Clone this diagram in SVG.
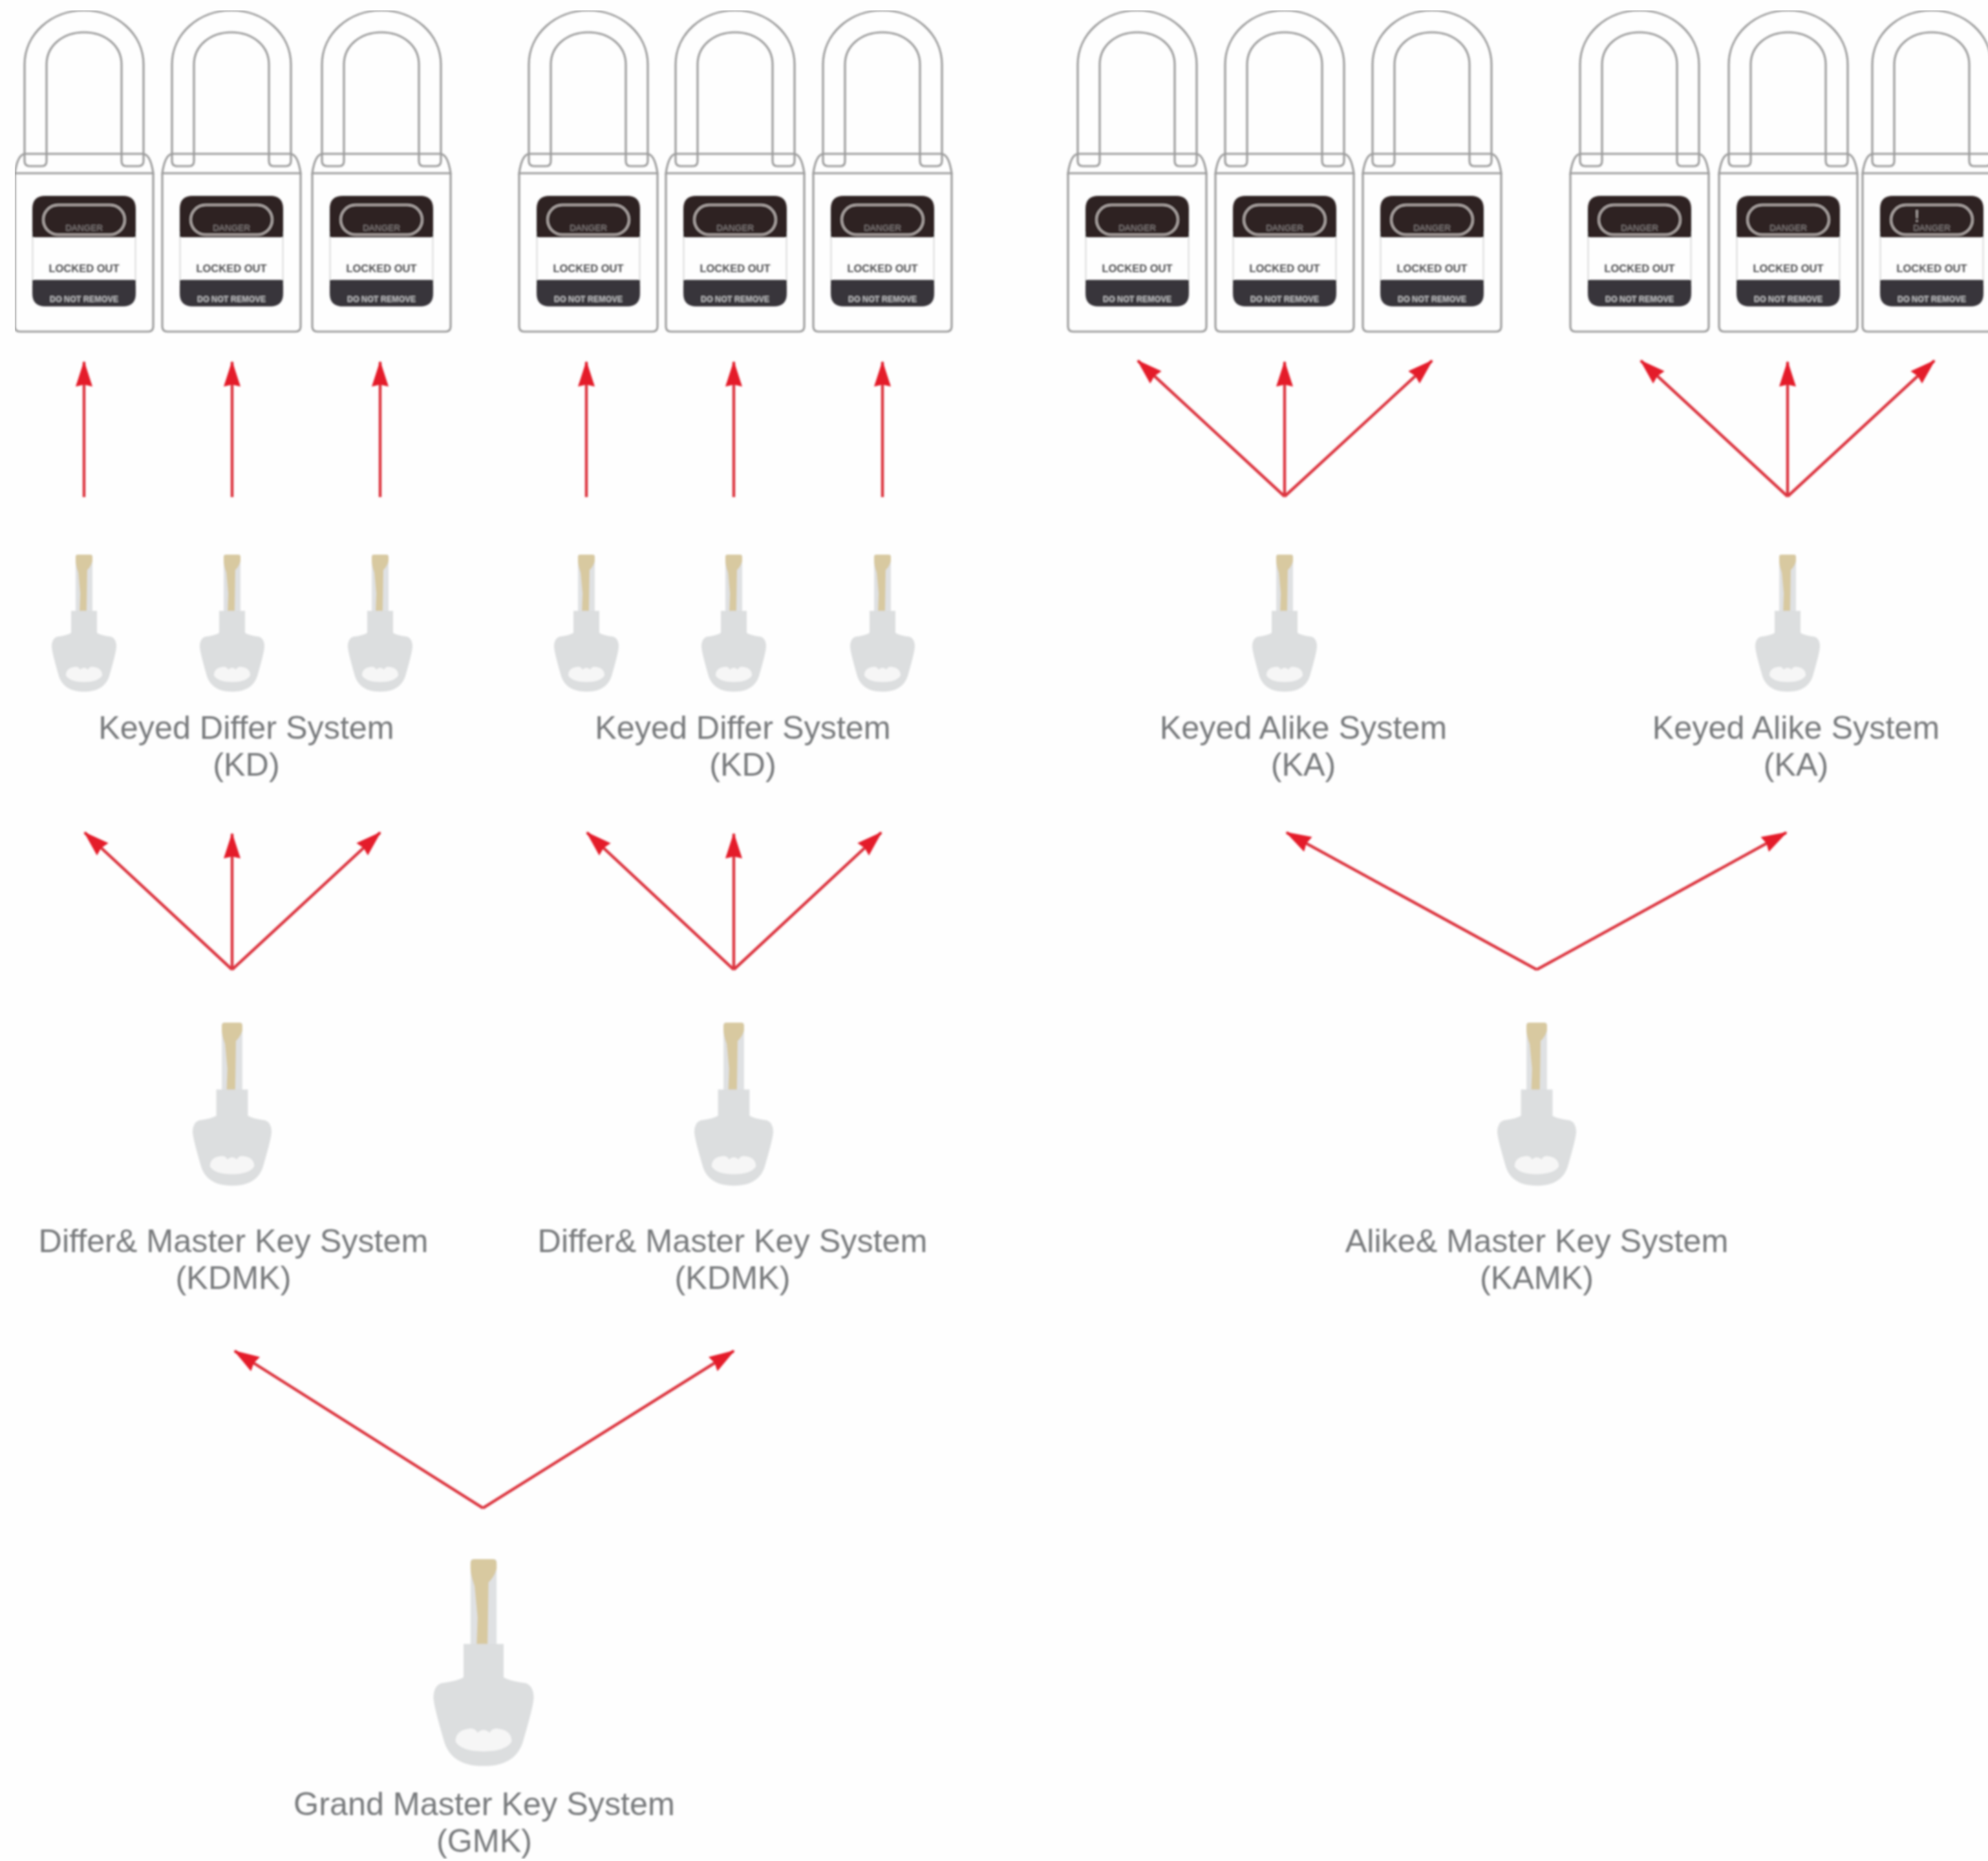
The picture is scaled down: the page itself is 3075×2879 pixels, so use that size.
<svg xmlns="http://www.w3.org/2000/svg" width="3075" height="2879" viewBox="0 0 3075 2879">
<style>
.lbl{font-family:"Liberation Sans",Arial,sans-serif;font-size:50.3px;fill:#77797b;text-anchor:middle}
.ln{fill:none;stroke:#9c9c9c;stroke-width:3.2}
.t{font-family:"Liberation Sans",Arial,sans-serif;text-anchor:middle}
.d{font-size:13.5px;fill:#8a8484}
.l{font-size:16.5px;font-weight:bold;fill:#4c4c4e}
.r{font-size:12.5px;font-weight:bold;fill:#bdbdc0}
.c{fill:none;stroke:#dc3640;stroke-width:4.5;marker-end:url(#a)}
</style>
<defs>
<filter id="b" x="0" y="0" width="100%" height="100%"><feGaussianBlur stdDeviation="1.5"/></filter>
<marker id="a" markerUnits="userSpaceOnUse" markerWidth="44" markerHeight="30" refX="38" refY="13" orient="auto"><path d="M0,0L40,13L0,26L3,13z" fill="#e41b2a"/></marker>
<g id="lock">
<path class="ln" d="M-92,250V100C-92,52-50,16 0,16S92,52 92,100V249Q92,257 84,257H65Q58,257 58,249V100C58,70 32,50 0,50S-58,70-58,100V249Q-58,257-65,257H-84Q-92,257-92,249Z"/>
<path class="ln" d="M-107,268Q-103,240-92,238H92Q103,240 107,268Z"/>
<path class="ln" d="M-107,268V505Q-107,513-99,513H99Q107,513 107,505V268"/>
<rect x="-79.500" y="360" width="159" height="80" fill="none" stroke="#cfcfcf" stroke-width="1.500"/>
<path d="M-80,367V323Q-80,303-60,303H60Q80,303 80,323V367Z" fill="#2e2223"/>
<path d="M-80,433V454Q-80,474-60,474H60Q80,474 80,454V433Z" fill="#37363b"/>
<rect x="-63" y="317" width="126" height="46" rx="23" fill="none" stroke="#b8b0ae" stroke-width="3"/>
</g>
<g id="key">
<path d="M-13,3Q-13,0-10,0H10Q13,0 13,3V88H-13Z" fill="#dfe1e3"/>
<path d="M-13,4Q-13,0-9,0H9Q13,0 13,4V10Q11,18 5,24L4,88H-7L-6,60-9,28Q-13,16-13,10Z" fill="#d8c9a0"/>
<path d="M-20,87H20V121Q26,125 42,127Q50,130 50,142Q50,150 39,188C33,206 18,212 0,212S-33,206-39,188Q-50,150-50,142Q-50,130-42,127Q-26,125-20,121Z" fill="#dcdedf"/>
<path d="M-28,187Q-28,176-16,174Q-9,172-6,178Q0,172 6,178Q9,172 16,174Q28,176 28,187Q22,197 0,197T-28,187Z" fill="#f6f6f6"/>
</g>
</defs>
<rect width="3075" height="2879" fill="#fefefe"/>
<g filter="url(#b)">
<g id="connectors">
<path class="c" d="M130,769V560"/><path class="c" d="M359,769V560"/><path class="c" d="M588,769V560"/>
<path class="c" d="M907,769V560"/><path class="c" d="M1135,769V560"/><path class="c" d="M1365,769V560"/>
<path class="c" d="M1987,768L1760,558"/><path class="c" d="M1987,768V560"/><path class="c" d="M1987,768L2215,558"/>
<path class="c" d="M2765,768L2538,558"/><path class="c" d="M2765,768V560"/><path class="c" d="M2765,768L2992,558"/>
<path class="c" d="M359,1500L131,1288"/><path class="c" d="M359,1500V1290"/><path class="c" d="M359,1500L588,1288"/>
<path class="c" d="M1135,1500L908,1288"/><path class="c" d="M1135,1500V1290"/><path class="c" d="M1135,1500L1363,1288"/>
<path class="c" d="M2377,1500L1990,1288"/><path class="c" d="M2377,1500L2763,1288"/>
<path class="c" d="M747,2333L363,2090"/><path class="c" d="M747,2333L1135,2090"/>
</g>
<g id="lock1" transform="translate(130 0)"><use href="#lock"/><text class="t d" y="357">DANGER</text><text class="t l" y="421">LOCKED OUT</text><text class="t r" y="467">DO NOT REMOVE</text></g>
<g id="lock2" transform="translate(358 0)"><use href="#lock"/><text class="t d" y="357">DANGER</text><text class="t l" y="421">LOCKED OUT</text><text class="t r" y="467">DO NOT REMOVE</text></g>
<g id="lock3" transform="translate(590 0)"><use href="#lock"/><text class="t d" y="357">DANGER</text><text class="t l" y="421">LOCKED OUT</text><text class="t r" y="467">DO NOT REMOVE</text></g>
<g id="lock4" transform="translate(910 0)"><use href="#lock"/><text class="t d" y="357">DANGER</text><text class="t l" y="421">LOCKED OUT</text><text class="t r" y="467">DO NOT REMOVE</text></g>
<g id="lock5" transform="translate(1137 0)"><use href="#lock"/><text class="t d" y="357">DANGER</text><text class="t l" y="421">LOCKED OUT</text><text class="t r" y="467">DO NOT REMOVE</text></g>
<g id="lock6" transform="translate(1365 0)"><use href="#lock"/><text class="t d" y="357">DANGER</text><text class="t l" y="421">LOCKED OUT</text><text class="t r" y="467">DO NOT REMOVE</text></g>
<g id="lock7" transform="translate(1759 0)"><use href="#lock"/><text class="t d" y="357">DANGER</text><text class="t l" y="421">LOCKED OUT</text><text class="t r" y="467">DO NOT REMOVE</text></g>
<g id="lock8" transform="translate(1987 0)"><use href="#lock"/><text class="t d" y="357">DANGER</text><text class="t l" y="421">LOCKED OUT</text><text class="t r" y="467">DO NOT REMOVE</text></g>
<g id="lock9" transform="translate(2215 0)"><use href="#lock"/><text class="t d" y="357">DANGER</text><text class="t l" y="421">LOCKED OUT</text><text class="t r" y="467">DO NOT REMOVE</text></g>
<g id="lock10" transform="translate(2536 0)"><use href="#lock"/><text class="t d" y="357">DANGER</text><text class="t l" y="421">LOCKED OUT</text><text class="t r" y="467">DO NOT REMOVE</text></g>
<g id="lock11" transform="translate(2766 0)"><use href="#lock"/><text class="t d" y="357">DANGER</text><text class="t l" y="421">LOCKED OUT</text><text class="t r" y="467">DO NOT REMOVE</text></g>
<g id="lock12" transform="translate(2988 0)"><use href="#lock"/><text class="t" x="-23" y="343" font-size="26" fill="#b8b0ae">!</text><text class="t d" y="357">DANGER</text><text class="t l" y="421">LOCKED OUT</text><text class="t r" y="467">DO NOT REMOVE</text></g>
<g id="key1"><use href="#key" transform="translate(130 858)"/></g>
<g id="key2"><use href="#key" transform="translate(359 858)"/></g>
<g id="key3"><use href="#key" transform="translate(588 858)"/></g>
<g id="key4"><use href="#key" transform="translate(907 858)"/></g>
<g id="key5"><use href="#key" transform="translate(1135 858)"/></g>
<g id="key6"><use href="#key" transform="translate(1365 858)"/></g>
<g id="key7"><use href="#key" transform="translate(1987 858)"/></g>
<g id="key8"><use href="#key" transform="translate(2765 858)"/></g>
<g id="key9"><use href="#key" transform="translate(359 1582) scale(1.22 1.19)"/></g>
<g id="key10"><use href="#key" transform="translate(1135 1582) scale(1.22 1.19)"/></g>
<g id="key11"><use href="#key" transform="translate(2377 1582) scale(1.22 1.19)"/></g>
<g id="key12"><use href="#key" transform="translate(748 2412) scale(1.55 1.51)"/></g>
<g id="label-kd1"><text class="lbl" x="381" y="1143">Keyed Differ System</text><text class="lbl" x="381" y="1200">(KD)</text></g>
<g id="label-kd2"><text class="lbl" x="1149" y="1143">Keyed Differ System</text><text class="lbl" x="1149" y="1200">(KD)</text></g>
<g id="label-ka1"><text class="lbl" x="2016" y="1143">Keyed Alike System</text><text class="lbl" x="2016" y="1200">(KA)</text></g>
<g id="label-ka2"><text class="lbl" x="2778" y="1143">Keyed Alike System</text><text class="lbl" x="2778" y="1200">(KA)</text></g>
<g id="label-kdmk1"><text class="lbl" x="361" y="1937">Differ&amp; Master Key System</text><text class="lbl" x="361" y="1994">(KDMK)</text></g>
<g id="label-kdmk2"><text class="lbl" x="1133" y="1937">Differ&amp; Master Key System</text><text class="lbl" x="1133" y="1994">(KDMK)</text></g>
<g id="label-kamk"><text class="lbl" x="2377" y="1937">Alike&amp; Master Key System</text><text class="lbl" x="2377" y="1994">(KAMK)</text></g>
<g id="label-gmk"><text class="lbl" x="749" y="2808">Grand Master Key System</text><text class="lbl" x="749" y="2865">(GMK)</text></g>
</g>
</svg>
